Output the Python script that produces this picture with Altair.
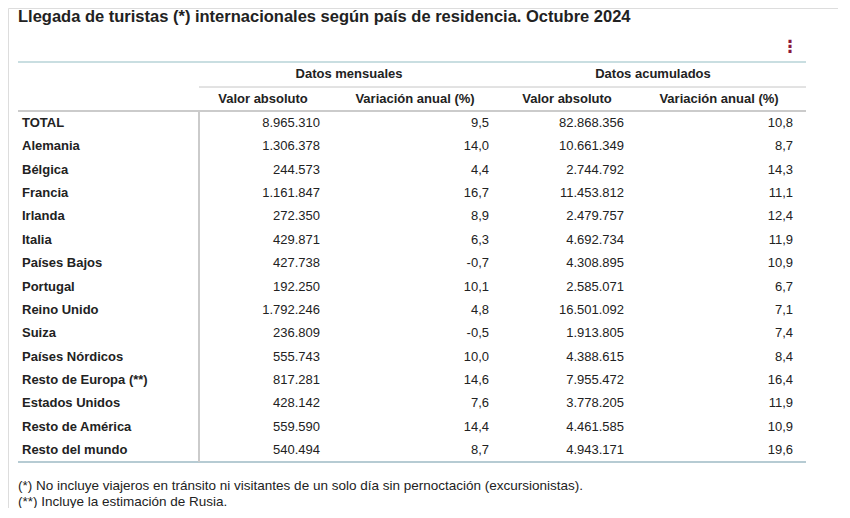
import altair as alt
import pandas as pd

title_text = "Llegada de turistas (*) internacionales según país de residencia. Octubre 2024"
notes = [
    "(*) No incluye viajeros en tránsito ni visitantes de un solo día sin pernoctación (excursionistas).",
    "(**) Incluye la estimación de Rusia.",
]
countries = ["TOTAL", "Alemania", "Bélgica", "Francia", "Irlanda", "Italia", "Países Bajos",
             "Portugal", "Reino Unido", "Suiza", "Países Nórdicos", "Resto de Europa (**)",
             "Estados Unidos", "Resto de América", "Resto del mundo"]
mensual_abs = [8965310, 1306378, 244573, 1161847, 272350, 429871, 427738, 192250,
               1792246, 236809, 555743, 817281, 428142, 559590, 540494]
mensual_var = [9.5, 14.0, 4.4, 16.7, 8.9, 6.3, -0.7, 10.1, 4.8, -0.5, 10.0, 14.6, 7.6, 14.4, 8.7]
acum_abs = [82868356, 10661349, 2744792, 11453812, 2479757, 4692734, 4308895, 2585071,
            16501092, 1913805, 4388615, 7955472, 3778205, 4461585, 4943171]
acum_var = [10.8, 8.7, 14.3, 11.1, 12.4, 11.9, 10.9, 6.7, 7.1, 7.4, 8.4, 16.4, 11.9, 10.9, 19.6]
group_headers = ["Datos mensuales", "Datos acumulados"]
col_keys = ["m_abs", "m_var", "a_abs", "a_var"]
col_headers = ["Valor absoluto", "Variación anual (%)", "Valor absoluto", "Variación anual (%)"]

FONT = "Liberation Sans"
TXT = "#222222"


def fmt_int(v):
    return f"{v:,}".replace(",", ".")


def fmt_dec(v):
    return f"{v:.1f}".replace(".", ",")


rows = []
for i, c in enumerate(countries):
    rows.append({"pais": c, "key": "m_abs", "kind": "abs", "txt": fmt_int(mensual_abs[i])})
    rows.append({"pais": c, "key": "m_var", "kind": "var", "txt": fmt_dec(mensual_var[i])})
    rows.append({"pais": c, "key": "a_abs", "kind": "abs", "txt": fmt_int(acum_abs[i])})
    rows.append({"pais": c, "key": "a_var", "kind": "var", "txt": fmt_dec(acum_var[i])})
cells = pd.DataFrame(rows)
labels = pd.DataFrame({"pais": countries})
heads = pd.DataFrame({"key": col_keys, "txt": col_headers})
groups = pd.DataFrame({"grp": group_headers})
notes_df = pd.DataFrame({"n": list(range(len(notes))), "txt": notes})
title_df = pd.DataFrame({"txt": [title_text]})

xcol = alt.Scale(type="point", domain=col_keys, range=[255, 711], padding=0)
yrow = alt.Scale(type="point", domain=countries, range=[115, 442], padding=0)
xgrp = alt.Scale(type="point", domain=group_headers, range=[341, 645], padding=0)
ynote = alt.Scale(type="point", domain=[0, 1], range=[478, 494], padding=0)

title = alt.Chart(title_df).mark_text(
    align="left", baseline="top", font=FONT, fontSize=16.5, fontWeight="bold", color=TXT
).encode(x=alt.value(10), y=alt.value(1), text="txt:N")

menu = alt.Chart(title_df).mark_text(
    align="center", baseline="middle", font="DejaVu Sans", fontSize=17, fontWeight="bold", color="#8b1a3c"
).encode(x=alt.value(782), y=alt.value(39), text=alt.value("⋮"))

group_t = alt.Chart(groups).mark_text(
    align="center", baseline="middle", font=FONT, fontSize=13, fontWeight="bold", color=TXT
).encode(x=alt.X("grp:N", scale=xgrp, axis=None), y=alt.value(66), text="grp:N")

head_t = alt.Chart(heads).mark_text(
    align="center", baseline="middle", font=FONT, fontSize=13, fontWeight="bold", color=TXT
).encode(x=alt.X("key:N", scale=xcol, axis=None), y=alt.value(91), text="txt:N")

label_t = alt.Chart(labels).mark_text(
    align="left", baseline="middle", font=FONT, fontSize=13, fontWeight="bold", color=TXT
).encode(x=alt.value(14), y=alt.Y("pais:N", scale=yrow, axis=None), text="pais:N")

abs_t = alt.Chart(cells).transform_filter(alt.datum.kind == "abs").mark_text(
    align="right", baseline="middle", font=FONT, fontSize=13, color=TXT, dx=57
).encode(x=alt.X("key:N", scale=xcol, axis=None), y=alt.Y("pais:N", scale=yrow, axis=None), text="txt:N")

var_t = alt.Chart(cells).transform_filter(alt.datum.kind == "var").mark_text(
    align="right", baseline="middle", font=FONT, fontSize=13, color=TXT, dx=74
).encode(x=alt.X("key:N", scale=xcol, axis=None), y=alt.Y("pais:N", scale=yrow, axis=None), text="txt:N")

notes_t = alt.Chart(notes_df).mark_text(
    align="left", baseline="middle", font=FONT, fontSize=13.5, color=TXT
).encode(x=alt.value(10), y=alt.Y("n:O", scale=ynote, axis=None), text="txt:N")


def hrule(y, x1, x2, color, w):
    return alt.Chart(title_df).mark_rule(color=color, strokeWidth=w).encode(
        x=alt.value(x1), x2=alt.value(x2), y=alt.value(y))


r_top = hrule(54, 10, 798, "#b7d3d7", 1.5)
r_grp = hrule(79, 191, 798, "#c6c6c6", 1)
r_head = hrule(103, 10, 798, "#cbcbcb", 2)
r_bot = hrule(454, 10, 798, "#b6cbd3", 2)
r_vert = alt.Chart(title_df).mark_rule(color="#cbcbcb", strokeWidth=2).encode(
    x=alt.value(191), y=alt.value(103), y2=alt.value(454))

chart = alt.layer(
    r_top, r_grp, r_head, r_bot, r_vert,
    title, menu, group_t, head_t, label_t, abs_t, var_t, notes_t
).resolve_scale(x="independent", y="independent").properties(
    width=830, height=500, padding=0, autosize=alt.AutoSizeParams(type="none")
).configure_view(stroke="transparent", strokeWidth=0).configure(background="white")

chart.save("out.html", embed_options={"renderer": "svg", "actions": False})
